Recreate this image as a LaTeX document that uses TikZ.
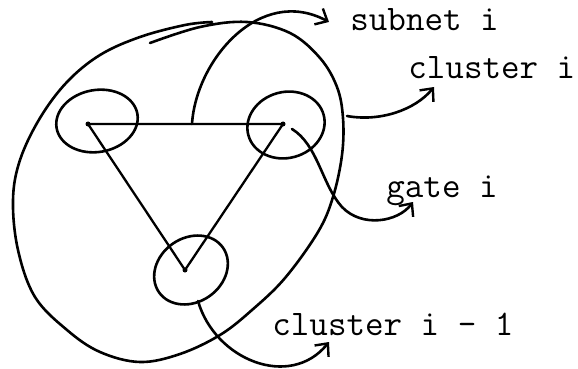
\documentclass[tikz,border=0pt]{standalone}
\usetikzlibrary{arrows.meta}
\begin{document}
\begin{tikzpicture}[x=0.5pt,y=-0.5pt,
  pen/.style={line width=1.3pt,line cap=round,line join=round},
  thin pen/.style={line width=1.15pt,line cap=round},
  barb/.style={-{Straight Barb[length=5pt,width=9pt,line width=1.2pt]}},
  lbl/.style={font=\ttfamily\fontsize{18}{20}\selectfont,inner sep=0pt,anchor=base west},
  vtx/.style={circle,fill,inner sep=0pt,minimum size=2.5pt}]
\useasboundingbox (0,0) rectangle (578,369);
% outer cluster curve
\draw[pen] plot[smooth,tension=0.6] coordinates {(150,43) (200,27) (247,22) (290,33) (320,58) (337,87) (343,118) (342,155) (333,197) (318,232) (285,278) (252,310) (220,335) (180,354) (140,362) (100,352) (67,330) (35,297) (18,250) (13,200) (20,160) (40,118) (67,82) (100,55) (140,37) (185,25) (212,22)};
% vertices
\node[vtx] (a) at (88,124) {};
\node[vtx] (b) at (283,124) {};
\node[vtx] (c) at (185,270) {};
\coordinate (m) at (192,124);
% triangle
\draw[thin pen] (a.center) -- (b.center) -- (c.center) -- cycle;
% small clusters
\draw[pen] (97,121) ellipse [x radius=41,y radius=31,rotate=10];
\draw[pen] (286,125) ellipse [x radius=39,y radius=33,rotate=15];
\draw[pen] (191,270) ellipse [x radius=39,y radius=32,rotate=35];
% labels
\node[lbl] (subnet) at (350,31) {subnet i};
\node[lbl] (clusteri) at (408,79) {cluster i};
\node[lbl] (gate) at (386,197) {gate i};
\node[lbl] (clusterm) at (272,335) {cluster i - 1};
% arrow ends
\coordinate (t1) at (329,22);
\coordinate (t2) at (434,87);
\coordinate (t3) at (413,202);
\coordinate (t4) at (329,342);
% arrows
\draw[pen,barb] (m) .. controls (196,60) and (260,-15) .. (t1);
\draw[pen,barb] (347,116) .. controls (380,122) and (415,110) .. (t2);
\draw[pen,barb] (292,129) .. controls (318,145) and (322,185) .. (342,207) .. controls (362,228) and (398,222) .. (t3);
\draw[pen,barb] (198,301) .. controls (215,360) and (290,390) .. (t4);
\end{tikzpicture}
\end{document}
